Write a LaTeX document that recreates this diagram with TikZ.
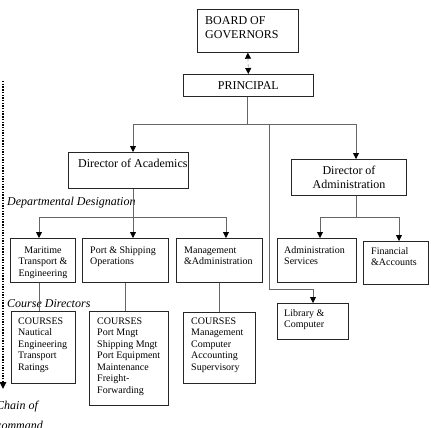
\documentclass[tikz,border=0pt]{standalone}
\usepackage{fontspec}
\setmainfont{Liberation Serif}
\usetikzlibrary{arrows.meta}
\begin{document}
\begin{tikzpicture}[x=1pt,y=-1pt,
  box/.style={draw=black!85, line width=0.7pt, inner sep=0pt, anchor=north west},
  bigtxt/.style={font=\fontsize{12pt}{14pt}\selectfont},
  smalltxt/.style={font=\fontsize{10pt}{11.5pt}\selectfont},
  lab/.style={font=\fontsize{12pt}{14pt}\selectfont\itshape, inner sep=0pt, anchor=base west},
  txt/.style={inner sep=0pt, anchor=north west, align=left},
  ctxt/.style={inner sep=0pt, anchor=north, align=center},
  conn/.style={draw=black!60, line width=0.8pt},
  tip/.tip={Triangle[length=6pt,width=6pt,color=black,fill=black]},
  arr/.style={conn, -tip},
]
\useasboundingbox (0,0) rectangle (431,428);

% boxes
\node[box, minimum width=101pt, minimum height=43pt] (board) at (197,9) {};
\node[box, minimum width=130pt, minimum height=22pt, bigtxt] (principal) at (183,74) {PRINCIPAL};
\node[box, minimum width=120pt, minimum height=36pt] (acad) at (68,152) {};
\node[box, minimum width=115pt, minimum height=36pt] (admin) at (291,159) {};
\node[box, minimum width=65pt, minimum height=44pt] (mar) at (10,238) {};
\node[box, minimum width=86pt, minimum height=44pt] (port) at (82,238) {};
\node[box, minimum width=86pt, minimum height=44pt] (mgmt) at (176,238) {};
\node[box, minimum width=79pt, minimum height=44pt] (asvc) at (277,238) {};
\node[box, minimum width=65pt, minimum height=43pt] (fin) at (363,241) {};
\node[box, minimum width=71pt, minimum height=36pt] (lib) at (277,303) {};
\node[box, minimum width=64pt, minimum height=72pt] (c1) at (11,311) {};
\node[box, minimum width=79pt, minimum height=94pt] (c2) at (89,311) {};
\node[box, minimum width=72pt, minimum height=71pt] (c3) at (183,312) {};

% texts
\node[txt, bigtxt] (tboard) at (205,14.2) {\strut BOARD OF\\GOVERNORS};
\node[txt, bigtxt] (tacad) at (78,157.2) {\strut Director of Academics};
\node[ctxt, bigtxt] (tadmin) at (349,164.2) {\strut Director of\\Administration};
\node[ctxt, smalltxt] (tmar) at (43,244.95) {\strut Maritime\\Transport \&\\Engineering};
\node[txt, smalltxt] (tport) at (90,244.95) {\strut Port \& Shipping\\Operations};
\node[txt, smalltxt] (tmgmt) at (184,244.95) {\strut Management\\\&Administration};
\node[txt, smalltxt] (tasvc) at (284,244.95) {\strut Administration\\Services};
\node[txt, smalltxt] (tfin) at (371,245.95) {\strut Financial\\\&Accounts};
\node[txt, smalltxt] (tlib) at (284,307.95) {\strut Library \&\\Computer};
\node[txt, smalltxt] (tc1) at (18,315.95) {\strut COURSES\\Nautical\\Engineering\\Transport\\Ratings};
\node[txt, smalltxt] (tc2) at (97,315.95) {\strut COURSES\\Port Mngt\\Shipping Mngt\\Port Equipment\\Maintenance\\Freight-\\Forwarding};
\node[txt, smalltxt] (tc3) at (191,315.95) {\strut COURSES\\Management\\Computer\\Accounting\\Supervisory};

% side labels
\node[lab] (ldept) at (7,205) {Departmental Designation};
\node[lab] (lcourse) at (7,307) {Course Directors};
\node[lab] (lchain) at (-4,409) {Chain of};
\node[lab] (lcmd) at (-4,429) {command};

% board <-> principal
\draw[draw=black!35, line width=0.8pt, dashed, tip-tip] (board.south) -- (principal.north);

% principal tree
\coordinate (b0) at (247,124);
\coordinate (bL) at (133,124);
\coordinate (bR) at (356,124);
\coordinate (lb) at (269,124);
\coordinate (lc) at (269,289);
\coordinate (ld) at (313,289);
\draw[conn] (b0 |- principal.south) -- (b0);
\draw[conn] (bL) -- (bR);
\draw[arr] (bL) -- (bL |- acad.north);
\draw[arr] (bR) -- (bR |- admin.north);
\draw[arr] (lb) -- (lc) -- (ld) -- (ld |- lib.north);

% academics tree
\coordinate (dL) at (39,217);
\coordinate (dR) at (226,217);
\draw[arr] (bL |- acad.south) -- (bL |- port.north);
\draw[conn] (dL) -- (dR);
\draw[arr] (dL) -- (dL |- mar.north);
\draw[arr] (dR) -- (dR |- mgmt.north);

% administration tree
\coordinate (aM) at (356,217);
\coordinate (aL) at (320,217);
\coordinate (aR) at (399,217);
\draw[conn] (aM |- admin.south) -- (aM);
\draw[conn] (aL) -- (aR);
\draw[arr] (aL) -- (aL |- asvc.north);
\draw[arr] (aR) -- (aR |- fin.north);

% departments to courses
\coordinate (pc) at (125,300);
\draw[conn] (dL |- mar.south) -- (dL |- c1.north);
\draw[conn] (pc |- port.south) -- (pc |- c2.north);
\draw[conn] (c3.north |- mgmt.south) -- (c3.north);

% chain of command
\coordinate (ds) at (3,81);
\coordinate (de) at (3,389);
\draw[line width=1.4pt, dash pattern=on 1.4pt off 1.3pt, -{Triangle[length=7pt,width=6.5pt]}] (ds) -- (de);
\end{tikzpicture}
\end{document}
